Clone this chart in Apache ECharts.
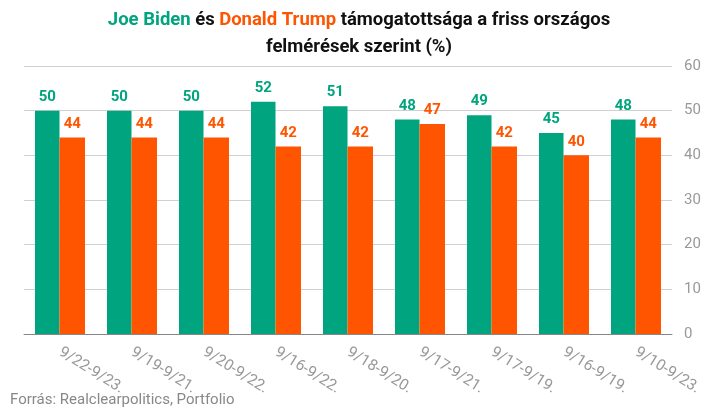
<!DOCTYPE html>
<html>
<head>
<meta charset="utf-8">
<script src="https://cdn.jsdelivr.net/npm/echarts@6/dist/echarts.min.js"></script>
<style>
    html, body {margin: 0; padding: 0; background: #fff;}
    #chart {width: 718px; height: 415px;}
</style>
</head>
<body>
<div id="chart"></div>
<script>
// felmérések időszakai
let categories = ['9/22-9/23.', '9/19-9/21.', '9/20-9/22.', '9/16-9/22.', '9/18-9/20.',
    '9/17-9/21.', '9/17-9/19.', '9/16-9/19.', '9/10-9/23.'];
let biden = [50, 50, 50, 52, 51, 48, 49, 45, 48];
let trump = [44, 44, 44, 42, 42, 47, 42, 40, 44];
let yTicks = [0, 10, 20, 30, 40, 50, 60];

let GREEN = '#00a47e';
let ORANGE = '#ff5500';
let FONT = 'Roboto';

let myChart = echarts.init(document.getElementById('chart'));
let option = {
    animation: false,
    textStyle: {fontFamily: FONT},
    title: {
        left: 'center',
        top: 2,
        text: '{g|Joe Biden} {b|és} {o|Donald Trump} {b|támogatottsága a friss országos}\n{b|felmérések szerint} {n|(%)}',
        textStyle: {
            rich: {
                g: {color: GREEN, fontWeight: 'bold', fontSize: 18.5, fontFamily: FONT, lineHeight: 27},
                o: {color: ORANGE, fontWeight: 'bold', fontSize: 18.5, fontFamily: FONT, lineHeight: 27},
                b: {color: '#111', fontWeight: 'bold', fontSize: 18.5, fontFamily: FONT, lineHeight: 27},
                n: {color: '#111', fontSize: 18.5, fontFamily: FONT, lineHeight: 27}
            }
        }
    },
    graphic: [{
        type: 'text',
        left: 10,
        top: 393,
        style: {text: 'Forrás: Realclearpolitics, Portfolio', fill: '#888', font: '15px Roboto'}
    }],
    grid: {left: 24, right: 46, top: 66, bottom: 81},
    xAxis: {
        type: 'category',
        data: categories,
        axisLine: {lineStyle: {color: '#888'}},
        axisTick: {show: false},
        axisLabel: {
            color: '#999',
            fontSize: 15.5,
            rotate: -32,
            margin: 17,
            interval: 0
        }
    },
    yAxis: {
        type: 'value',
        position: 'right',
        min: yTicks[0],
        max: yTicks[yTicks.length - 1],
        interval: 10,
        axisLine: {show: false},
        axisTick: {show: false},
        splitLine: {lineStyle: {color: '#d0d0d0'}},
        axisLabel: {color: '#999', fontSize: 15, margin: 12}
    },
    series: [
        {
            name: 'Joe Biden',
            type: 'bar',
            data: biden,
            barWidth: 24.5,
            barGap: '0%',
            itemStyle: {color: GREEN},
            label: {show: true, position: 'top', color: GREEN, fontWeight: 'bold', fontSize: 15, distance: 6}
        },
        {
            name: 'Donald Trump',
            type: 'bar',
            data: trump,
            barWidth: 25.5,
            itemStyle: {color: ORANGE},
            label: {show: true, position: 'top', color: ORANGE, fontWeight: 'bold', fontSize: 15, distance: 6}
        }
    ]
};
myChart.setOption(option, true);
</script>
</body>
</html>
